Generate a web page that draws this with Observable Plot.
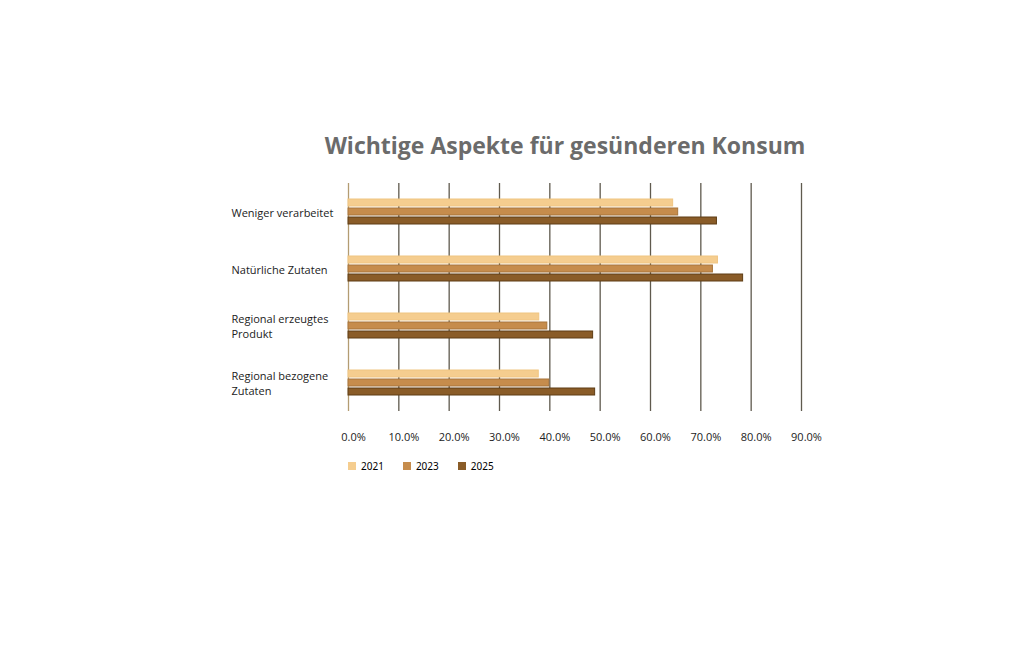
<!DOCTYPE html>
<html><head><meta charset="utf-8">
<script src="https://cdn.jsdelivr.net/npm/d3@7"></script>
<script src="https://cdn.jsdelivr.net/npm/@observablehq/plot@0.6"></script>
<style>
body{margin:0;background:#fff;width:1024px;height:645px;overflow:hidden;font-family:"Open Sans",sans-serif}
#title{box-sizing:border-box;width:1024px;padding-top:128px;padding-left:106px;height:162px;line-height:34px;text-align:center;font-weight:700;font-size:23px;color:#6b6b6b;white-space:nowrap}
#legend{margin-left:348px;margin-top:-13px}
.leg-swatch{margin-right:19px !important}
.leg{font-family:"Open Sans",sans-serif;font-size:11px;color:#222}
</style></head>
<body>
<div id="title">Wichtige Aspekte für gesünderen Konsum</div>
<div id="chart"></div>
<div id="legend"></div>
<script>
const categories = ["Weniger verarbeitet", "Natürliche Zutaten", "Regional erzeugtes Produkt", "Regional bezogene Zutaten"];
const categoryLabels = ["Weniger verarbeitet", "Natürliche Zutaten", "Regional erzeugtes\nProdukt", "Regional bezogene\nZutaten"];
const years = ["2021", "2023", "2025"];
const values2021 = [64.5, 73.4, 37.9, 37.8];
const values2023 = [65.5, 72.4, 39.5, 39.9];
const values2025 = [73.2, 78.4, 48.6, 49.0];
const xTicks = [0, 10, 20, 30, 40, 50, 60, 70, 80, 90];
const colors = ["#f5cd8f", "#c68c4c", "#8a5c28"];
const strokes = ["#f0c582", "#a8743a", "#5e3d15"];

const series = [values2021, values2023, values2025];
const data = [];
years.forEach((yr, i) => categories.forEach((c, j) => data.push({cat: c, year: yr, value: series[i][j]})));
const labelOf = new Map(categories.map((c, i) => [c, categoryLabels[i]]));

const offsets = [-9, 0, 9];
const barMarks = years.map((yr, i) => Plot.barX(data.filter(d => d.year === yr), {
  x: "value", y: "cat", fill: "year", dy: offsets[i],
  insetTop: 25, insetBottom: 25,
  stroke: strokes[i], strokeWidth: 1
}));

const chart = Plot.plot({
  width: 1024,
  height: 300,
  marginLeft: 348,
  marginRight: 223,
  marginTop: 21,
  marginBottom: 51,
  style: {fontFamily: "'Open Sans', sans-serif", fontSize: "11px", color: "#222", background: "#fff"},
  x: {domain: [0, 90], label: null},
  y: {domain: categories, padding: 0, label: null},
  color: {type: "ordinal", domain: years, range: colors},
  marks: [
    Plot.ruleX(xTicks.slice(1), {stroke: "#5f5a4e", strokeWidth: 1.3}),
    Plot.ruleX([0], {stroke: "#b39c72", strokeWidth: 1.3}),
    ...barMarks,
    Plot.axisX({ticks: xTicks, tickSize: 0, tickPadding: 22, dx: 5, tickFormat: d => d.toFixed(1) + "%", label: null, fill: "#222"}),
    Plot.axisY({tickSize: 0, tickPadding: 117, textAnchor: "start", lineHeight: 1.35, tickFormat: d => labelOf.get(d), label: null, fill: "#222"})
  ]
});
document.getElementById("chart").appendChild(chart);
const leg = chart.legend("color", {className: "leg", swatchSize: 8});
document.getElementById("legend").appendChild(leg);
</script>
</body></html>
